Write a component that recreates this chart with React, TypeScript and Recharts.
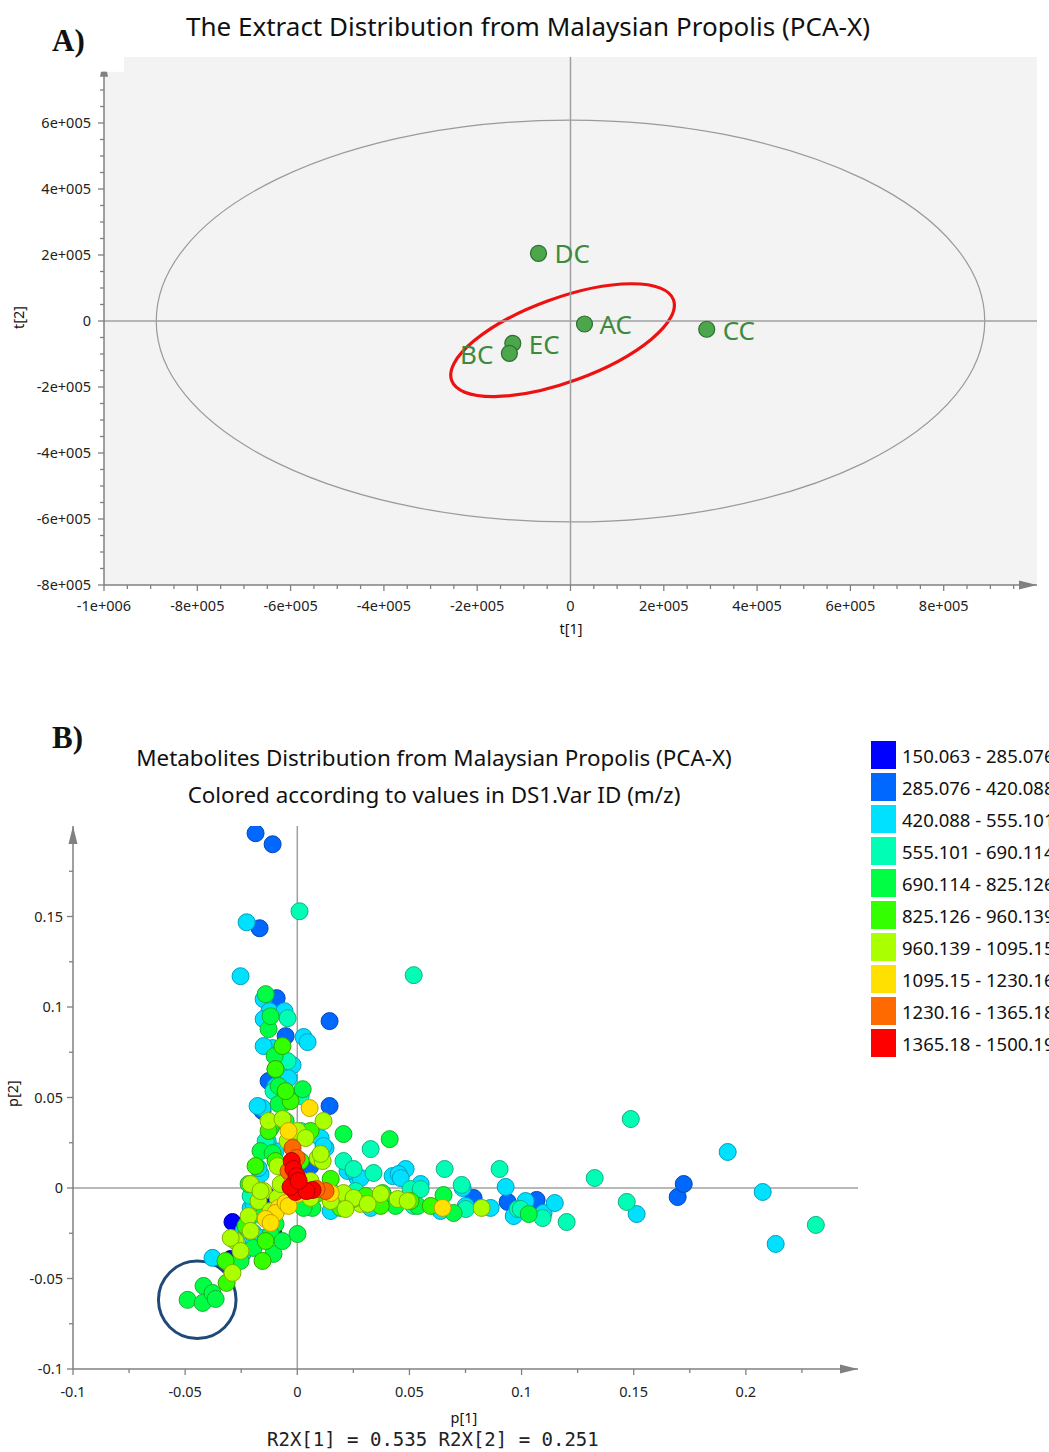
import { ScatterChart, Scatter, XAxis, YAxis, ReferenceLine, ReferenceArea, ReferenceDot } from "recharts"

const FONT = "'Noto Sans', 'Open Sans', sans-serif"
const AXIS = "#808080"
const ZERO = "#a0a0a0"

// ---- panel A: score plot t[1] / t[2]
const SAMPLE_NAMES = ["DC", "AC", "CC", "EC", "BC"]
const SAMPLE_T1 = [-68600, 30000, 292000, -123700, -131000]
const SAMPLE_T2 = [205000, -9100, -25000, -67600, -98000]

const A_X_MAJOR = [-1000000, -800000, -600000, -400000, -200000, 0, 200000, 400000, 600000, 800000]
const A_X_LABELS = ["-1e+006", "-8e+005", "-6e+005", "-4e+005", "-2e+005", "0", "2e+005", "4e+005", "6e+005", "8e+005"]
const A_Y_MAJOR = [-800000, -600000, -400000, -200000, 0, 200000, 400000, 600000]
const A_Y_LABELS = ["-8e+005", "-6e+005", "-4e+005", "-2e+005", "0", "2e+005", "4e+005", "6e+005"]

// Hotelling T2 ellipse semi axes (t1, t2)
const T2_ELLIPSE = [888000, 609000]
// highlighted group (center t1, t2 / semi axes t1, t2)
const GROUP_CENTER = [-17000, -58000]
const GROUP_SEMI = [253000, 127000]

// ---- panel B: loadings p[1] / p[2], binned by m/z
const MZ_BINS = [
  "150.063 - 285.076",
  "285.076 - 420.088",
  "420.088 - 555.101",
  "555.101 - 690.114",
  "690.114 - 825.126",
  "825.126 - 960.139",
  "960.139 - 1095.15",
  "1095.15 - 1230.16",
  "1230.16 - 1365.18",
  "1365.18 - 1500.19",
]
const BIN_COLORS = ["#0000ff", "#0068ff", "#00e0ff", "#00ffb4", "#00ff44", "#33ff00", "#aaff00", "#ffe000", "#ff6a00", "#ff0000"]
const BIN_STROKES = ["#0000a8", "#0048b8", "#00a0c0", "#14b084", "#18b030", "#30a800", "#80b000", "#c0a000", "#c04800", "#b00000"]

const BIN1: [number, number][] = [
  [-0.0289, -0.0188], [-0.0297, -0.0392], [-0.0106, -0.0254], [-0.0173, -0.0116], [-0.0128, -0.005], [-0.0039, 0.005],
]
const BIN2: [number, number][] = [
  [-0.0186, 0.196], [-0.011, 0.1899], [-0.0168, 0.1435], [-0.0092, 0.1049], [0.0144, 0.0922], [-0.0052, 0.0839],
  [0.0144, 0.0453], [-0.0074, 0.0773], [-0.0128, 0.0591], [-0.0155, 0.0425], [-0.003, 0.0259], [0.0059, 0.0121],
  [0.0938, -0.0077], [0.1067, -0.0066], [0.0786, -0.0055], [0.1696, -0.005], [0.1723, 0.0022],
]
const BIN3: [number, number][] = [
  [-0.0226, 0.1468], [-0.0253, 0.117], [-0.015, 0.1043], [-0.0124, 0.0977], [-0.015, 0.0933], [-0.011, 0.0773],
  [-0.0021, 0.0679], [-0.0039, 0.0607], [0.0028, 0.0834], [0.0046, 0.0806], [-0.0155, 0.0442], [0.0104, 0.0276],
  [0.0126, 0.0221], [-0.0164, 0.0077], [-0.0208, -0.011], [-0.0222, -0.0193], [-0.0195, -0.0248], [-0.0164, -0.0276],
  [-0.0378, -0.0386], [-0.0244, -0.0364], [0.0117, 0.0232], [0.0224, 0.0094], [0.0269, 0.0055], [0.0327, -0.011],
  [0.0425, 0.0066], [0.0483, 0.0105], [0.0251, 0.0094], [0.0751, -0.0099], [0.0737, 0.0], [0.0862, -0.011],
  [0.0929, 0.0006], [0.0965, -0.0155], [0.1018, -0.0072], [0.1098, -0.0138], [0.1148, -0.0083], [0.1513, -0.0144],
  [0.1919, 0.0199], [0.2075, -0.0022], [0.2133, -0.0309], [0.0452, 0.0077], [-0.0074, 0.037], [-0.0097, 0.0204],
  [-0.015, 0.0784], [-0.0177, 0.0453], [-0.0132, 0.0259], [-0.0173, 0.011], [-0.0195, -0.0088], [0.0282, 0.0055],
  [0.0461, 0.0055], [0.055, 0.0022], [-0.0052, 0.0039], [-0.024, -0.0237], [-0.0195, -0.0309], [-0.0097, 0.0563],
  [-0.0057, 0.0977], [0.0149, -0.0127], [0.0639, -0.0127],
]
const BIN4: [number, number][] = [
  [0.001, 0.1529], [0.0519, 0.1176], [0.1487, 0.0381], [0.1326, 0.0055], [0.1469, -0.0077], [0.2312, -0.0204],
  [0.0902, 0.0105], [0.0657, 0.0105], [0.0733, 0.0017], [0.1201, -0.0188], [0.1094, -0.0166], [0.0983, -0.0116],
  [0.0751, -0.0116], [0.0505, -0.0006], [0.0327, 0.0215], [0.034, 0.0083], [0.055, -0.0006], [0.0519, -0.0099],
  [0.0996, -0.0116], [-0.0043, 0.0938], [-0.0043, 0.0701], [-0.0106, 0.0535], [0.0206, 0.0149], [0.0251, 0.0105],
  [0.0015, 0.0315], [0.0149, -0.0017], [-0.0141, 0.0259], [0.0416, -0.0072], [0.026, -0.0017], [-0.0208, -0.0044],
  [0.0015, 0.0508],
]
const BIN5: [number, number][] = [
  [-0.0489, -0.0618], [-0.0422, -0.0635], [-0.0418, -0.0541], [-0.0378, -0.058], [-0.0364, -0.0613],
  [-0.0141, 0.1071], [-0.0128, 0.0878], [-0.0101, 0.0729], [-0.0097, 0.0657], [-0.0083, 0.0563], [-0.0066, 0.0464],
  [0.0024, 0.0546], [0.0206, 0.0298], [0.0412, 0.027], [-0.0164, 0.0204], [-0.011, 0.0193], [-0.0217, 0.0022],
  [0.038, -0.0028], [0.0537, -0.0099], [0.0697, -0.0138], [0.1032, -0.0144], [0.0652, -0.0039], [-0.0097, -0.0199],
  [-0.0119, -0.0254], [0.0015, -0.0072], [0.0068, -0.011], [0.0001, -0.0254], [-0.0106, -0.0364], [-0.0195, -0.0331],
  [-0.0275, -0.0293], [-0.0052, 0.037], [-0.0083, 0.0464], [-0.0119, 0.0331], [0.0028, -0.011], [-0.0155, -0.0155],
  [-0.0253, -0.0403], [-0.0066, -0.0293], [0.026, -0.0072], [0.0438, -0.0099], [-0.0119, 0.0949],
]
const BIN6: [number, number][] = [
  [-0.0097, 0.0657], [-0.0066, 0.0784], [-0.003, 0.048], [-0.0128, 0.0315], [-0.0315, -0.0524], [-0.0231, -0.021],
  [-0.032, -0.0403], [0.0149, 0.005], [0.0305, -0.0044], [0.0595, -0.0099], [0.0193, -0.011], [0.0095, -0.0028],
  [0.0015, 0.0149], [-0.0186, 0.0121], [-0.0155, -0.0403], [0.0059, 0.0315], [0.0505, -0.0072], [-0.0052, 0.0535],
  [-0.0097, 0.0149], [-0.0141, -0.0293], [0.0372, -0.0099],
]
const BIN7: [number, number][] = [
  [-0.0128, 0.037], [0.0117, 0.037], [-0.0043, 0.0259], [0.0091, 0.0166], [-0.015, -0.0017], [-0.0088, -0.0055],
  [0.0206, -0.0028], [0.0282, -0.0088], [0.0447, -0.0061], [0.0822, -0.011], [-0.0208, 0.0022], [-0.0173, -0.0072],
  [-0.0074, 0.0022], [0.0251, -0.0061], [0.0372, -0.0033], [-0.0088, 0.0121], [-0.003, 0.0077], [-0.0275, -0.0293],
  [-0.0289, -0.0469], [-0.0297, -0.0276], [0.0113, 0.0149], [0.0059, 0.0039], [-0.0119, -0.0127], [-0.0217, -0.0155],
  [0.0149, -0.0072], [-0.0066, 0.0381], [0.0001, 0.0315], [0.0037, 0.0276], [-0.0164, -0.0017], [0.0104, 0.0188],
  [0.0059, -0.0055], [0.0251, -0.0055], [0.0314, -0.0088], [0.0492, -0.0072], [0.0215, -0.0116], [-0.0253, -0.0348],
  [-0.0208, -0.0237],
]
const BIN8: [number, number][] = [
  [0.0055, 0.0442], [-0.0039, 0.0315], [0.0648, -0.011], [-0.0083, -0.011], [-0.0097, -0.0138], [-0.0052, -0.0083],
  [0.0001, -0.0033], [0.0149, -0.0028], [-0.0141, -0.0171], [-0.0119, -0.0193], [-0.0039, -0.0099],
]
const BIN9: [number, number][] = [
  [-0.0021, 0.0221], [-0.0003, 0.0166], [0.0126, -0.0017], [0.0086, -0.0006], [-0.0039, 0.0094],
]
const BIN10: [number, number][] = [
  [-0.0025, 0.0149], [-0.0017, 0.0105], [-0.0003, 0.0066], [-0.0012, 0.0028], [0.0015, 0.0], [-0.0008, -0.0022],
  [0.0068, -0.0011], [0.0041, -0.0017], [-0.003, 0.0006], [0.0006, 0.0039],
]
const BINS = [BIN1, BIN2, BIN3, BIN4, BIN5, BIN6, BIN7, BIN8, BIN9, BIN10]

const B_X_MAJOR = [-0.1, -0.05, 0, 0.05, 0.1, 0.15, 0.2]
const B_X_LABELS = ["-0.1", "-0.05", "0", "0.05", "0.1", "0.15", "0.2"]
const B_Y_MAJOR = [-0.1, -0.05, 0, 0.05, 0.1, 0.15]
const B_Y_LABELS = ["-0.1", "-0.05", "0", "0.05", "0.1", "0.15"]

// loadings circled group (center p1, p2 / half extents)
const CIRCLE_CENTER = [-0.0446, -0.0618]
const CIRCLE_HALF = [0.0173, 0.0214]

const R2X = ["0.535", "0.251"]

const TICK_FONT = 14.5

const stepTicks = (from: number, to: number, step: number) => {
  const out: number[] = []
  for (let i = 0; from + i * step <= to + step / 2; i++) out.push(Math.round((from + i * step) * 1e6) / 1e6)
  return out
}

const tickRenderer = (side: "bottom" | "left", majors: number[], labels: string[], eps: number, lab: number) => (props: any) => {
  const { x, y, payload } = props
  const i = majors.findIndex((m) => Math.abs(m - payload.value) < eps)
  const len = i >= 0 ? 6 : 4
  if (side === "bottom") {
    return (
      <g>
        <line x1={x} x2={x} y1={y} y2={y + len} stroke={AXIS} strokeWidth={1.3} />
        {i >= 0 && (
          <text x={x} y={y + lab} textAnchor="middle" fontSize={TICK_FONT} fontFamily={FONT} fill="#222">
            {labels[i]}
          </text>
        )}
      </g>
    )
  }
  return (
    <g>
      <line x1={x - len} x2={x} y1={y} y2={y} stroke={AXIS} strokeWidth={1.3} />
      {i >= 0 && (
        <text x={x - lab} y={y + 5} textAnchor="end" fontSize={TICK_FONT} fontFamily={FONT} fill="#222">
          {labels[i]}
        </text>
      )}
    </g>
  )
}

const EllipseShape = (rot: number) => (p: any) => {
  const cx = p.x + p.width / 2
  const cy = p.y + p.height / 2
  return (
    <ellipse
      cx={cx}
      cy={cy}
      rx={Math.abs(p.width) / 2}
      ry={Math.abs(p.height) / 2}
      fill="none"
      stroke={p.stroke}
      strokeWidth={p.strokeWidth}
      transform={`rotate(${rot} ${cx} ${cy})`}
    />
  )
}

const arrowRight = (p: any) => (
  <polygon points={`${p.cx},${p.cy} ${p.cx - 18},${p.cy - 4.5} ${p.cx - 18},${p.cy + 4.5}`} fill={AXIS} />
)
const arrowUp = (p: any) => (
  <polygon points={`${p.cx},${p.cy} ${p.cx - 4.5},${p.cy + 18} ${p.cx + 4.5},${p.cy + 18}`} fill={AXIS} />
)
const nubUp = (p: any) => (
  <polygon points={`${p.cx - 3},${p.cy} ${p.cx + 3},${p.cy} ${p.cx + 4},${p.cy + 5} ${p.cx - 4},${p.cy + 5}`} fill={AXIS} />
)

const LABEL_SIDE: Record<string, [number, number, string]> = {
  DC: [16, 0, "start"],
  AC: [15, 0, "start"],
  CC: [16, 1, "start"],
  EC: [16, 1, "start"],
  BC: [-16, 1, "end"],
}

const ScorePoint = (p: any) => {
  const [dx, dy, anchor] = LABEL_SIDE[p.payload.name]
  return (
    <g>
      <circle cx={p.cx} cy={p.cy} r={8} fill="#4ca64c" stroke="#2f6f2f" strokeWidth={1.2} />
      <text x={p.cx + dx} y={p.cy + dy} dominantBaseline="central" textAnchor={anchor} fontSize={26} fontFamily={FONT} fill="#3d8a3d">
        {p.payload.name}
      </text>
    </g>
  )
}

const loadingDot = (fill: string, stroke: string) => (p: any) => (
  <circle cx={p.cx} cy={p.cy} r={8.5} fill={fill} stroke={stroke} strokeWidth={1} />
)

const scores = SAMPLE_NAMES.map((name, i) => ({ name, t1: SAMPLE_T1[i], t2: SAMPLE_T2[i] }))

const text = (extra: React.CSSProperties): React.CSSProperties => ({
  position: "absolute",
  fontFamily: FONT,
  color: "#111",
  whiteSpace: "nowrap",
  ...extra,
})

export default function App() {
  return (
    <div style={{ position: "absolute", left: 0, top: 0, width: 1049, height: 1452, overflow: "hidden", background: "#fff" }}>
      {/* ---------- A ---------- */}
      <div style={text({ left: 128, width: 800, top: 9, fontSize: 26, lineHeight: "34px", textAlign: "center" })}>
        The Extract Distribution from Malaysian Propolis (PCA-X)
      </div>
      <div style={text({ left: 52, top: 23, fontSize: 31, fontWeight: "bold", fontFamily: "'Liberation Serif', serif" })}>A)</div>

      <div style={{ position: "absolute", left: 0, top: 0 }}>
        <ScatterChart width={1049} height={650} margin={{ top: 57, right: 12, bottom: 35, left: 44 }}>
          <ReferenceArea x1={-1000000} x2={1000000} y1={-800000} y2={800000} fill="#f3f3f3" fillOpacity={1} stroke="none" />
          <ReferenceArea x1={-1000000} x2={-957000} y1={755000} y2={800000} fill="#ffffff" fillOpacity={1} stroke="none" />
          <ReferenceLine x={0} stroke={ZERO} strokeWidth={1.5} />
          <ReferenceLine y={0} stroke={ZERO} strokeWidth={1.5} />
          <ReferenceArea
            x1={-T2_ELLIPSE[0]}
            x2={T2_ELLIPSE[0]}
            y1={-T2_ELLIPSE[1]}
            y2={T2_ELLIPSE[1]}
            stroke="#9a9a9a"
            strokeWidth={1.2}
            shape={EllipseShape(0)}
          />
          <ReferenceLine
            segment={[{ x: -1000000, y: -800000 }, { x: -1000000, y: 755000 }]}
            stroke={AXIS}
            strokeWidth={1.5}
          />
          <ReferenceDot x={-1000000} y={755000} shape={nubUp} />
          <ReferenceDot x={1000000} y={-800000} shape={arrowRight} />
          <XAxis
            type="number"
            dataKey="t1"
            domain={[-1000000, 1000000]}
            allowDataOverflow
            ticks={stepTicks(-1000000, 950000, 50000)}
            interval={0}
            tickSize={0}
            tickMargin={0}
            tickLine={false}
            axisLine={{ stroke: AXIS, strokeWidth: 1.5 }}
            tick={tickRenderer("bottom", A_X_MAJOR, A_X_LABELS, 1000, 26)}
            height={30}
          />
          <YAxis
            type="number"
            dataKey="t2"
            domain={[-800000, 800000]}
            allowDataOverflow
            ticks={stepTicks(-800000, 700000, 50000)}
            interval={0}
            tickSize={0}
            tickMargin={0}
            tickLine={false}
            axisLine={false}
            tick={tickRenderer("left", A_Y_MAJOR, A_Y_LABELS, 1000, 13)}
            width={60}
          />
          <ReferenceArea
            x1={GROUP_CENTER[0] - GROUP_SEMI[0]}
            x2={GROUP_CENTER[0] + GROUP_SEMI[0]}
            y1={GROUP_CENTER[1] - GROUP_SEMI[1]}
            y2={GROUP_CENTER[1] + GROUP_SEMI[1]}
            stroke="#ee1111"
            strokeWidth={3.2}
            shape={EllipseShape(-20)}
          />
          <Scatter data={scores} isAnimationActive={false} shape={ScorePoint} />
        </ScatterChart>
      </div>
      <div style={text({ left: 10, top: 321 - 10, fontSize: TICK_FONT, transform: "rotate(-90deg)", transformOrigin: "8px 10px" })}>t[2]</div>
      <div style={text({ left: 471, width: 200, top: 618, fontSize: TICK_FONT, textAlign: "center" })}>t[1]</div>

      {/* ---------- B ---------- */}
      <div style={text({ left: 52, top: 720, fontSize: 31, fontWeight: "bold", fontFamily: "'Liberation Serif', serif" })}>B)</div>
      <div style={text({ left: 34, width: 800, top: 743, fontSize: 22.4, lineHeight: "30px", textAlign: "center" })}>
        Metabolites Distribution from Malaysian Propolis (PCA-X)
      </div>
      <div style={text({ left: 34, width: 800, top: 780, fontSize: 22.4, lineHeight: "30px", textAlign: "center" })}>
        Colored according to values in DS1.Var ID (m/z)
      </div>

      <div style={{ position: "absolute", left: 0, top: 700 }}>
        <ScatterChart width={1049} height={752} margin={{ top: 126, right: 191, bottom: 53, left: 13 }}>
          <ReferenceLine x={0} stroke={ZERO} strokeWidth={1.5} />
          <ReferenceLine y={0} stroke={ZERO} strokeWidth={1.5} />
          <ReferenceDot x={0.25} y={-0.1} shape={arrowRight} />
          <ReferenceDot x={-0.1} y={0.2} shape={arrowUp} />
          <XAxis
            type="number"
            dataKey="p1"
            domain={[-0.1, 0.25]}
            allowDataOverflow
            ticks={stepTicks(-0.1, 0.225, 0.025)}
            interval={0}
            tickSize={0}
            tickMargin={0}
            tickLine={false}
            axisLine={{ stroke: AXIS, strokeWidth: 1.5 }}
            tick={tickRenderer("bottom", B_X_MAJOR, B_X_LABELS, 0.001, 28)}
            height={30}
          />
          <YAxis
            type="number"
            dataKey="p2"
            domain={[-0.1, 0.2]}
            allowDataOverflow
            ticks={stepTicks(-0.1, 0.175, 0.025)}
            interval={0}
            tickSize={0}
            tickMargin={0}
            tickLine={false}
            axisLine={{ stroke: AXIS, strokeWidth: 1.5 }}
            tick={tickRenderer("left", B_Y_MAJOR, B_Y_LABELS, 0.001, 10)}
            width={60}
          />
          {BINS.map((bin, k) => (
            <Scatter
              key={k}
              name={MZ_BINS[k]}
              data={bin.map(([p1, p2]) => ({ p1, p2 }))}
              isAnimationActive={false}
              shape={loadingDot(BIN_COLORS[k], BIN_STROKES[k])}
            />
          ))}
          <ReferenceArea
            x1={CIRCLE_CENTER[0] - CIRCLE_HALF[0]}
            x2={CIRCLE_CENTER[0] + CIRCLE_HALF[0]}
            y1={CIRCLE_CENTER[1] - CIRCLE_HALF[1]}
            y2={CIRCLE_CENTER[1] + CIRCLE_HALF[1]}
            stroke="#1f4a78"
            strokeWidth={3}
            shape={EllipseShape(0)}
          />
        </ScatterChart>
      </div>

      <div style={text({ left: 2, top: 1097 - 10, fontSize: TICK_FONT, transform: "rotate(-90deg)", transformOrigin: "10px 10px" })}>p[2]</div>
      <div style={text({ left: 364, width: 200, top: 1407, fontSize: TICK_FONT, textAlign: "center" })}>p[1]</div>
      <div style={text({ left: 267, top: 1428, fontSize: 19, fontFamily: "'DejaVu Sans Mono', monospace", color: "#222" })}>
        {`R2X[1] = ${R2X[0]} R2X[2] = ${R2X[1]}`}
      </div>

      {/* legend */}
      <div style={{ position: "absolute", left: 871, top: 741 }}>
        {MZ_BINS.map((label, k) => (
          <div key={k} style={{ position: "absolute", left: 0, top: k * 32, height: 28, display: "flex", alignItems: "center" }}>
            <div style={{ width: 25, height: 28, background: BIN_COLORS[k] }} />
            <span style={{ marginLeft: 6, fontSize: 18.5, fontFamily: FONT, color: "#111", whiteSpace: "nowrap" }}>{label}</span>
          </div>
        ))}
      </div>
    </div>
  )
}
